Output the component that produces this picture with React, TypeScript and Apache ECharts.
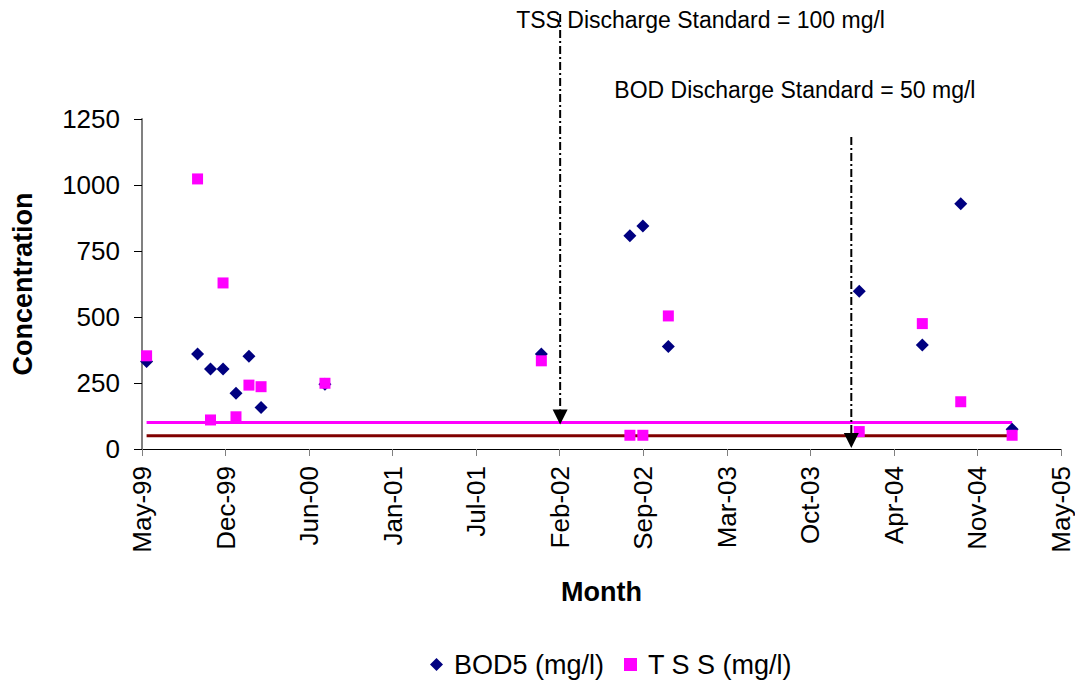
import React, { useEffect, useRef } from "react";
import * as echarts from "echarts";

// ---- data ----
const sampleDates: string[] = [
  "1999-06-01", "1999-10-01", "1999-11-01", "1999-12-01", "2000-01-01", "2000-02-01",
  "2000-03-01", "2000-08-01", "2002-01-01", "2002-08-01", "2002-09-01", "2002-11-01",
  "2004-02-01", "2004-07-01", "2004-10-01", "2005-02-01",
];
const bod5: number[] = [331, 360, 303, 303, 211, 351, 157, 245, 360, 808, 845, 388, 598, 394, 929, 75];
const tss: number[] = [353, 1023, 110, 629, 122, 242, 236, 249, 334, 52, 52, 504, 66, 475, 179, 52];
const tssStandard = 100;
const bodStandard = 50;

// x axis: days since axis origin, tick every 200 days
const AXIS_ORIGIN = "1999-05-21";
const X_MIN = 0;
const X_MAX = 2200;
const X_INTERVAL = 200;
const yTicks = { min: 0, max: 1250, interval: 250 };

// annotation anchors
const TSS_ARROW_DATE = "2002-02-15";
const BOD_ARROW_DATE = "2004-01-13";
const TSS_LABEL = "TSS Discharge Standard = 100 mg/l";
const BOD_LABEL = "BOD Discharge Standard = 50 mg/l";

const MONTHS = ["Jan", "Feb", "Mar", "Apr", "May", "Jun", "Jul", "Aug", "Sep", "Oct", "Nov", "Dec"];
const DAY = 86400000;

function parse(s: string): number {
  const [y, m, d] = s.split("-").map(Number);
  return Date.UTC(y, m - 1, d);
}
const originMs = parse(AXIS_ORIGIN);
function toDay(s: string): number {
  return Math.round((parse(s) - originMs) / DAY);
}
function fmt(v: number): string {
  const d = new Date(originMs + v * DAY);
  const yy = String(d.getUTCFullYear() % 100).padStart(2, "0");
  return `${MONTHS[d.getUTCMonth()]}-${yy}`;
}

const FONT = "'Liberation Sans', Arial, Helvetica, sans-serif";

export default function App() {
  const ref = useRef<HTMLDivElement>(null);
  useEffect(() => {
    if (!ref.current) return;
    const chart = echarts.init(ref.current, null, { renderer: "svg" });
    const xs = sampleDates.map(toDay);
    const first = xs[0];
    const last = xs[xs.length - 1];
    const option: any = {
      animation: false,
      backgroundColor: "#ffffff",
      textStyle: { fontFamily: FONT },
      grid: { left: 142, right: 14, top: 119, bottom: 238, containLabel: false },
      legend: {
        data: ["BOD5 (mg/l)", "T S S (mg/l)"],
        left: 430,
        top: 651,
        padding: 0,
        itemGap: 20,
        itemWidth: 13,
        itemHeight: 13,
        textStyle: { fontSize: 27, color: "#000", fontFamily: FONT, padding: [0, 0, 0, 6] },
      },
      xAxis: {
        type: "value",
        min: X_MIN,
        max: X_MAX,
        interval: X_INTERVAL,
        name: "Month",
        nameLocation: "middle",
        nameGap: 129,
        nameTextStyle: { fontSize: 27, fontWeight: "bold", color: "#000", fontFamily: FONT },
        axisLine: { onZero: false, lineStyle: { color: "#000", width: 1 } },
        axisTick: { show: true, length: 7, lineStyle: { color: "#808080" } },
        axisLabel: {
          rotate: 90,
          fontSize: 26,
          color: "#000",
          margin: 17,
          formatter: (v: number) => fmt(v),
          fontFamily: FONT,
        },
        splitLine: { show: false },
      },
      yAxis: {
        type: "value",
        min: yTicks.min,
        max: yTicks.max,
        interval: yTicks.interval,
        name: "Concentration",
        nameLocation: "middle",
        nameGap: 106,
        nameTextStyle: { fontSize: 27, fontWeight: "bold", color: "#000", fontFamily: FONT },
        axisLine: { show: true, onZero: false, lineStyle: { color: "#808080", width: 2 } },
        axisTick: { show: true, length: 8, lineStyle: { color: "#000" } },
        axisLabel: {
          fontSize: 26,
          color: "#000",
          margin: 22,
          fontFamily: FONT,
          formatter: (v: number) => String(v),
        },
        splitLine: { show: false },
      },
      series: [
        {
          name: "TSS standard",
          type: "line",
          data: [[first, tssStandard], [last, tssStandard]],
          symbol: "none",
          lineStyle: { color: "#FF00FF", width: 3 },
          z: 1,
        },
        {
          name: "BOD standard",
          type: "line",
          data: [[first, bodStandard], [last, bodStandard]],
          symbol: "none",
          lineStyle: { color: "#800000", width: 3 },
          z: 1,
        },
        {
          name: "BOD5 (mg/l)",
          type: "scatter",
          symbol: "diamond",
          symbolSize: 13,
          itemStyle: { color: "#000080", opacity: 1 },
          data: xs.map((x, i) => [x, bod5[i]]),
          z: 3,
        },
        {
          name: "T S S (mg/l)",
          type: "scatter",
          symbol: "rect",
          symbolSize: 11,
          itemStyle: { color: "#FF00FF", opacity: 1 },
          data: xs.map((x, i) => [x, tss[i]]),
          z: 4,
        },
      ],
    };
    chart.setOption(option);

    const tssP = chart.convertToPixel({ gridIndex: 0 }, [toDay(TSS_ARROW_DATE), tssStandard]) as number[];
    const bodP = chart.convertToPixel({ gridIndex: 0 }, [toDay(BOD_ARROW_DATE), 0]) as number[];
    const tssTip = tssP[1] + 2;
    const bodTip = bodP[1] - 1;
    const head = 15;
    const arrow = (x: number, top: number, tip: number) => [
      {
        type: "line",
        shape: { x1: x, y1: top, x2: x, y2: tip - head },
        style: { stroke: "#000", lineWidth: 2, lineDash: [8, 3, 2, 3] },
        z: 100,
      },
      {
        type: "polygon",
        shape: { points: [[x - 7.5, tip - head], [x + 7.5, tip - head], [x, tip]] },
        style: { fill: "#000" },
        z: 100,
      },
    ];
    chart.setOption({
      graphic: [
        ...arrow(tssP[0], 14, tssTip),
        ...arrow(bodP[0], 137, bodTip),
        {
          type: "text",
          x: tssP[0] - 44,
          y: 20,
          style: { text: TSS_LABEL, fontSize: 23, fill: "#000", fontFamily: FONT, verticalAlign: "middle" },
          z: 101,
        },
        {
          type: "text",
          x: bodP[0] - 237,
          y: 90,
          style: { text: BOD_LABEL, fontSize: 23, fill: "#000", fontFamily: FONT, verticalAlign: "middle" },
          z: 101,
        },
      ],
    });
    return () => chart.dispose();
  }, []);
  return (
    <div
      ref={ref}
      style={{ position: "fixed", left: 0, top: 0, width: 1075, height: 687, background: "#fff" }}
    />
  );
}
